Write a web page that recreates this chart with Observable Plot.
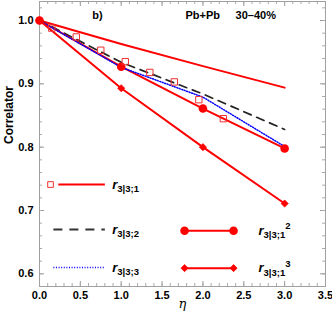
<!DOCTYPE html>
<html>
<head>
<meta charset="utf-8">
<script src="https://cdn.jsdelivr.net/npm/d3@7"></script>
<script src="https://cdn.jsdelivr.net/npm/@observablehq/plot@0.6"></script>
<style>
  html, body { margin: 0; padding: 0; background: #fff; }
  #chart svg { display: block; }
</style>
</head>
<body>
<div id="chart"></div>
<script>
// ---- data ----
const eta = [0, 1, 2, 3];
const r31 = [1.0, 0.963, 0.928, 0.894];
const r32 = [1.0, 0.934, 0.884, 0.828];
const r33 = [1.0, 0.926, 0.879, 0.801];
const r31sq = [1.0, 0.927, 0.861, 0.798];
const r31cube = [1.0, 0.893, 0.800, 0.711];
const dataEta = [0.15, 0.45, 0.75, 1.05, 1.35, 1.65, 1.95, 2.25];
const dataR31 = [0.988, 0.974, 0.953, 0.935, 0.918, 0.903, 0.875, 0.845];

const xTicks = [0, 0.5, 1, 1.5, 2, 2.5, 3, 3.5];
const yTicks = [0.6, 0.7, 0.8, 0.9, 1.0];
const xMinor = d3.range(0, 36).map(i => i / 10);
const yMinor = d3.range(0, 24).map(i => +(0.58 + i * 0.02).toFixed(2));

const legendSubs = ["3|3;1", "3|3;2", "3|3;3", "3|3;1", "3|3;1"];
const legendSups = ["", "", "", "2", "3"];

// ---- layout (not data) ----
const W = 332, H = 321;
const M = {top: 1, right: 7, bottom: 35, left: 39};
const innerH = H - M.top - M.bottom;
const innerW = W - M.left - M.right;
const RED = "#ff0000";

const line = (ys) => eta.map((e, i) => ({x: e, y: ys[i]}));
const dataPts = dataEta.map((e, i) => ({x: e, y: dataR31[i]}));

// legend geometry in data coordinates
const legLeft = {x0: 0.23, x1: 0.17, x2: 0.80, sq: 0.135, lab: 0.89};
const legRight = {x1: 1.775, x2: 2.375, lab: 2.68};
const legRows = [0.741, 0.670, 0.610];
const legRowsR = [0.668, 0.609];

const legLabels = [
  {x: legLeft.lab, y: legRows[0]},
  {x: legLeft.lab, y: legRows[1]},
  {x: legLeft.lab, y: legRows[2]},
  {x: legRight.lab, y: legRowsR[0]},
  {x: legRight.lab, y: legRowsR[1]}
].map((d, i) => ({...d, sub: legendSubs[i], sup: legendSups[i]}));

const chart = Plot.plot({
  width: W, height: H,
  marginTop: M.top, marginRight: M.right, marginBottom: M.bottom, marginLeft: M.left,
  style: {fontFamily: "'Liberation Sans', Arial, sans-serif", fontSize: "11px", fontWeight: "bold", color: "#000", background: "#fff"},
  x: {domain: [0, 3.5]},
  y: {domain: [0.58, 1.03]},
  marks: [
    // ticks (inward, Mathematica-style frame)
    Plot.tickX(xTicks, {x: d => d, insetTop: innerH - 5, stroke: "#999"}),
    Plot.tickX(xTicks, {x: d => d, insetBottom: innerH - 5, stroke: "#999"}),
    Plot.tickX(xMinor, {x: d => d, insetTop: innerH - 3, stroke: "#aaa"}),
    Plot.tickX(xMinor, {x: d => d, insetBottom: innerH - 3, stroke: "#aaa"}),
    Plot.tickY(yTicks, {y: d => d, insetRight: innerW - 5, stroke: "#999"}),
    Plot.tickY(yTicks, {y: d => d, insetLeft: innerW - 5, stroke: "#999"}),
    Plot.tickY(yMinor, {y: d => d, insetRight: innerW - 3, stroke: "#aaa"}),
    Plot.tickY(yMinor, {y: d => d, insetLeft: innerW - 3, stroke: "#aaa"}),
    Plot.frame({stroke: "#a0a0a0"}),
    Plot.axisX({ticks: xTicks, tickSize: 0, tickPadding: 5, tickFormat: d3.format(".1f"), label: null, fontWeight: "bold", fontSize: 11}),
    Plot.axisY({ticks: yTicks, tickSize: 0, tickPadding: 6, tickFormat: d3.format(".1f"), label: null, fontWeight: "bold", fontSize: 11}),

    // series
    Plot.line(line(r31), {x: "x", y: "y", stroke: RED, strokeWidth: 2}),
    Plot.line(line(r32), {x: "x", y: "y", stroke: "#222", strokeWidth: 1.7, strokeDasharray: "8,6"}),
    Plot.line(line(r31sq), {x: "x", y: "y", stroke: RED, strokeWidth: 2}),
    Plot.line(line(r33), {x: "x", y: "y", stroke: "#0000ff", strokeWidth: 1.5, strokeDasharray: "1,1.6"}),
    Plot.line(line(r31cube), {x: "x", y: "y", stroke: RED, strokeWidth: 2}),
    Plot.dot(line(r31sq), {x: "x", y: "y", r: 4.3, fill: RED, stroke: "none"}),
    Plot.dot(line(r31cube), {x: "x", y: "y", r: 3.2, symbol: "diamond2", fill: RED, stroke: RED, strokeWidth: 0.8}),
    Plot.dot(dataPts, {x: "x", y: "y", r: 3.6, symbol: "square", fill: "white", fillOpacity: 0, stroke: "#f03030", strokeWidth: 1}),

    // annotations
    Plot.text(["b)"], {x: 0.71, y: 1.008, text: d => d, fontSize: 11, fontWeight: "bold"}),
    Plot.text(["Pb+Pb"], {x: 1.787, y: 1.008, text: d => d, textAnchor: "start", fontSize: 11, fontWeight: "bold"}),
    Plot.text(["30–40%"], {x: 2.40, y: 1.008, text: d => d, textAnchor: "start", fontSize: 11, fontWeight: "bold"}),
    Plot.text(["Correlator"], {frameAnchor: "left", rotate: -90, dx: -30, text: d => d, fontSize: 12, fontWeight: "bold"}),
    Plot.text(["η"], {frameAnchor: "bottom", dy: 21, text: d => d, fontSize: 13, fontStyle: "italic", fontWeight: "normal", fontFamily: "'DejaVu Serif', serif"}),

    // legend
    Plot.dot([{x: legLeft.sq, y: legRows[0]}], {x: "x", y: "y", r: 3.2, symbol: "square", fill: "white", stroke: "#f03030", strokeWidth: 1}),
    Plot.link([{y: legRows[0]}], {x1: legLeft.x0, x2: legLeft.x2, y1: "y", y2: "y", stroke: RED, strokeWidth: 2}),
    Plot.link([{y: legRows[1]}], {x1: legLeft.x1, x2: legLeft.x2, y1: "y", y2: "y", stroke: "#333", strokeWidth: 2, strokeDasharray: "9,7"}),
    Plot.link([{y: legRows[2]}], {x1: legLeft.x1, x2: legLeft.x2, y1: "y", y2: "y", stroke: "#0000ff", strokeWidth: 1.5, strokeDasharray: "1,1.6"}),
    Plot.link([{y: legRowsR[0]}, {y: legRowsR[1]}], {x1: legRight.x1, x2: legRight.x2, y1: "y", y2: "y", stroke: RED, strokeWidth: 2}),
    Plot.dot([legRight.x1, legRight.x2], {x: d => d, y: legRowsR[0], r: 4.3, fill: RED}),
    Plot.dot([legRight.x1, legRight.x2], {x: d => d, y: legRowsR[1], r: 3.2, symbol: "diamond2", fill: RED, stroke: RED, strokeWidth: 0.8}),
    Plot.text(legLabels, {x: "x", y: "y", text: d => "r", textAnchor: "start", className: "leglab", fontSize: 13, fontWeight: "bold", fontStyle: "italic"})
  ]
});

// rebuild legend labels with subscripts / superscripts
d3.select(chart).selectAll("g.leglab text").each(function(_, i) {
  const d = legLabels[i];
  const t = d3.select(this);
  t.text(null);
  t.append("tspan").text("r");
  t.append("tspan").attr("dy", 3.5).attr("font-size", 9.5).attr("font-style", "normal").text(d.sub);
  if (d.sup) t.append("tspan").attr("dy", -9).attr("font-size", 9.5).attr("font-style", "normal").text(d.sup);
});

document.getElementById("chart").appendChild(chart);
</script>
</body>
</html>
